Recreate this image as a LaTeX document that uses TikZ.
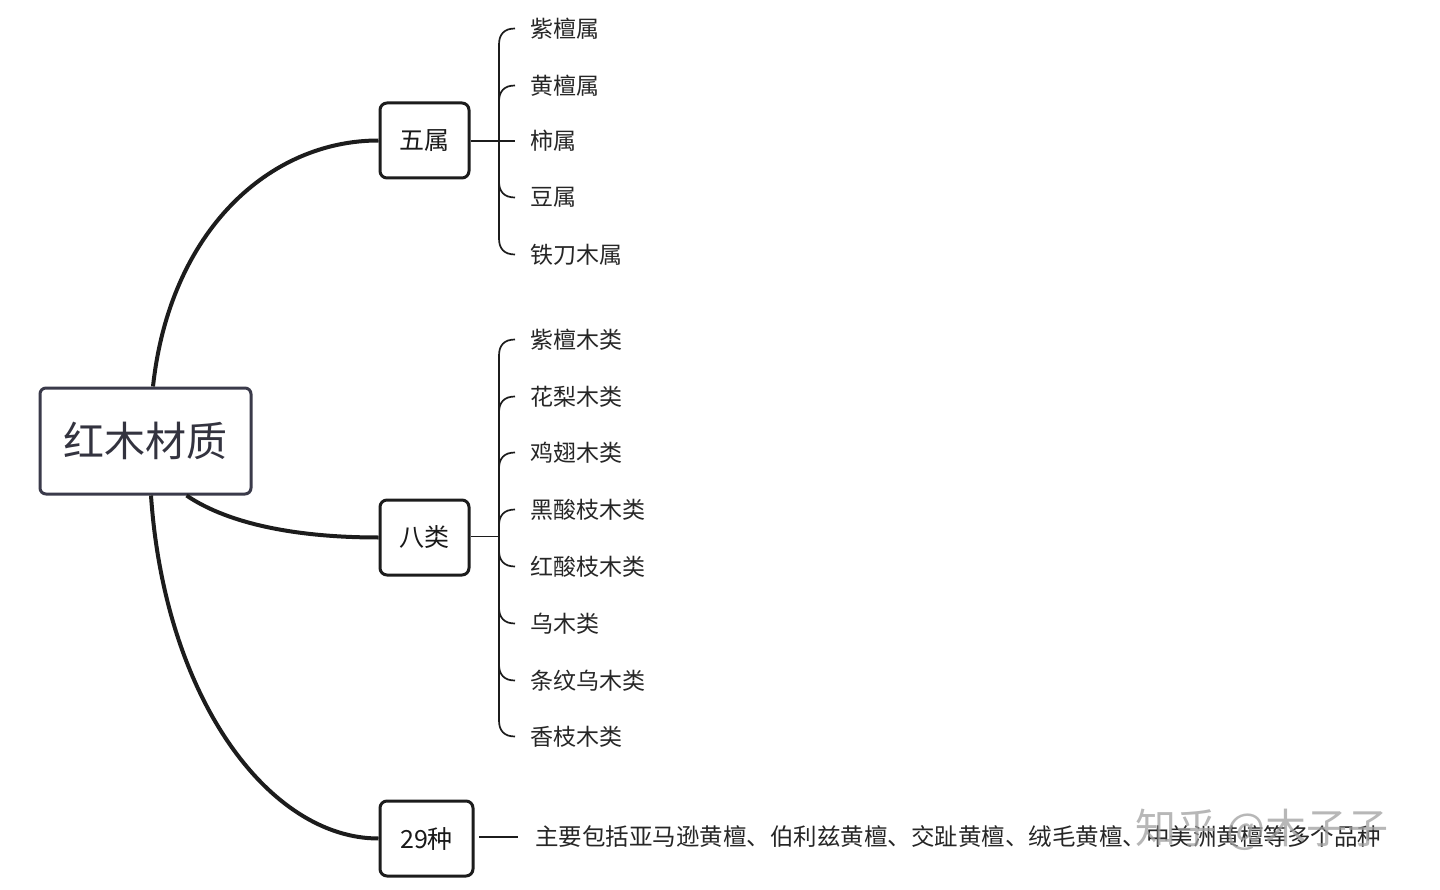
\documentclass[tikz,border=0pt]{standalone}
\usepackage{fontspec}
\newfontfamily\cjk{Noto Sans CJK SC}
\definecolor{rootc}{HTML}{3A3A4A}
\definecolor{roott}{HTML}{33333F}
\definecolor{linec}{HTML}{1C1C1C}
\begin{document}
\begin{tikzpicture}[x=1pt,y=-1pt,
  rootbox/.style={draw=rootc, line width=3pt, rounded corners=6pt, fill=white,
    minimum width=211pt, minimum height=106pt, inner sep=0pt,
    font=\cjk\fontsize{41}{45}\selectfont, text=roott},
  mainbox/.style={draw=linec, line width=3pt, rounded corners=7pt, fill=white,
    minimum width=89pt, minimum height=75pt, inner sep=0pt,
    font=\cjk\fontsize{25}{28}\selectfont, text=black!90},
  leaf/.style={anchor=west, inner xsep=15pt, inner ysep=2pt,
    font=\cjk\fontsize{23}{26}\selectfont, text=black!85},
  conn/.style={line width=4pt, draw=linec},
  bracel/.style={line width=1.7pt, draw=linec},
  wmark/.style={font=\cjk\fontsize{41}{44}\selectfont, text=gray!75, opacity=0.75}
]
\useasboundingbox (0,0) rectangle (1440,890);

% main nodes
\node[rootbox] (root) at (145.5,441) {红木材质};
\node[mainbox] (wu) at (424.5,140.5) {五属};
\node[mainbox] (ba) at (424.5,537.5) {八类};
\node[mainbox, minimum width=93pt] (zhong) at (426.5,838.5) {29种};

% connectors from root
\draw[conn] ([xshift=7.5pt]root.north) .. controls (170,230) and (270,140.5) .. (wu.west);
\draw[conn] ([xshift=41pt]root.south) .. controls (230,525) and (300,537.5) .. (ba.west);
\draw[conn] ([xshift=5.5pt]root.south) .. controls (165,700) and (270,838.5) .. (zhong.west);

% five genera
\foreach \i/\y/\t in {1/28.5/紫檀属,2/85.5/黄檀属,3/141/柿属,4/197.5/豆属,5/254.5/铁刀木属}
  \node[leaf] (w\i) at (515,\y) {\t};
\coordinate (hubw) at (499,141);
\draw[bracel] (wu.east |- hubw) -- (hubw) -- (w3.west);
\foreach \i/\y in {1/28.5,2/85.5}
  \draw[bracel] (hubw) -- (499,\y+16) .. controls (499,\y+6) and (504,\y) .. (w\i.west);
\foreach \i/\y in {4/197.5,5/254.5}
  \draw[bracel] (hubw) -- (499,\y-16) .. controls (499,\y-6) and (504,\y) .. (w\i.west);

% eight classes
\foreach \i/\y/\t in {1/339.5/紫檀木类,2/396.5/花梨木类,3/452.5/鸡翅木类,4/509.5/黑酸枝木类,
                      5/566.5/红酸枝木类,6/623.5/乌木类,7/680.5/条纹乌木类,8/736.5/香枝木类}
  \node[leaf] (b\i) at (515,\y) {\t};
\coordinate (hubb) at (499,536.5);
\draw[bracel] (ba.east |- hubb) -- (hubb);
\foreach \i/\y in {1/339.5,2/396.5,3/452.5,4/509.5}
  \draw[bracel] (hubb) -- (499,\y+16) .. controls (499,\y+6) and (504,\y) .. (b\i.west);
\foreach \i/\y in {5/566.5,6/623.5,7/680.5,8/736.5}
  \draw[bracel] (hubb) -- (499,\y-16) .. controls (499,\y-6) and (504,\y) .. (b\i.west);

% 29 species
\node[leaf, inner xsep=17pt, font=\cjk\fontsize{23.5}{26}\selectfont] (desc) at (518,837) {主要包括亚马逊黄檀、伯利兹黄檀、交趾黄檀、绒毛黄檀、中美洲黄檀等多个品种};
\draw[bracel] ([xshift=4.5pt]zhong.east |- desc.west) -- (desc.west);

% watermark
\node[wmark] (wm) at (1262,830) {知乎 @木子子};
\end{tikzpicture}
\end{document}
